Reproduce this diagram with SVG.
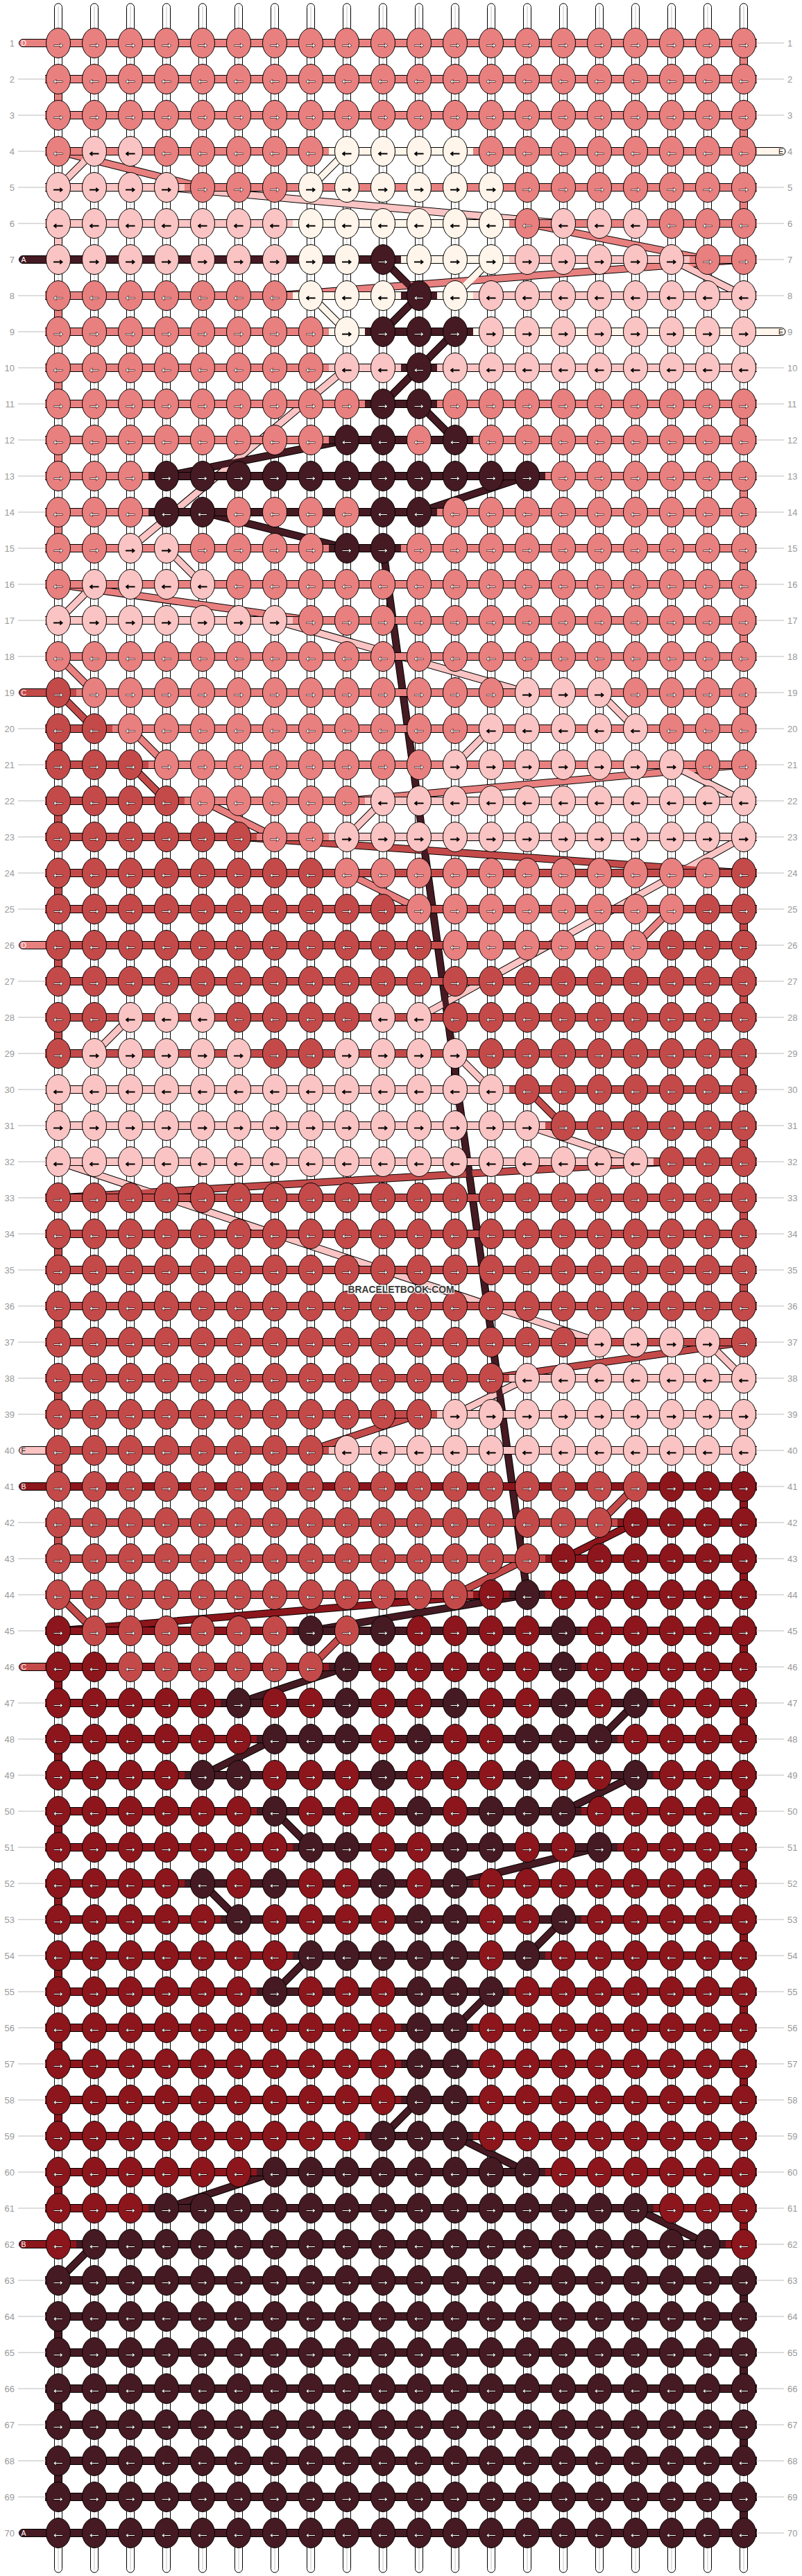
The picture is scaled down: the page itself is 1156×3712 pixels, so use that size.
<svg xmlns="http://www.w3.org/2000/svg" width="1156" height="3712" viewBox="0 0 1156 3712">
<style>
text{font-family:"Liberation Sans",Arial,sans-serif}
.n{font-size:13px;fill:#999;dominant-baseline:central}
.lt{font-size:10.5px;dominant-baseline:central}
.gl{stroke:#bbb;stroke-width:1;fill:none}
.str rect{fill:#fff;stroke:#000}
.o{stroke:#000;stroke-width:11;fill:none;stroke-linejoin:round}
.c{stroke-width:9;fill:none;stroke-linejoin:round}
.tn{stroke:#000}
</style>
<defs>
<g id="sg" stroke="#000"><rect x="-2" y="20.5" width="56" height="11"/><rect x="-2" y="72.5" width="56" height="11"/></g>
<g id="kn" stroke="#000"><ellipse cx="26" cy="26" rx="17.5" ry="21.5"/><ellipse cx="26" cy="78" rx="17.5" ry="21.5"/><g fill="currentColor" font-family="'DejaVu Sans',sans-serif" font-weight="bold" font-size="21" text-anchor="middle" stroke-width="1.2" paint-order="stroke" stroke-linejoin="round"><text x="26" y="33">→</text><text x="26" y="85">←</text></g></g>
<pattern id="S" width="52" height="104" x="58" y="36" patternUnits="userSpaceOnUse"><use href="#sg" fill="#e8807f"/><use href="#kn" fill="#e8807f" color="#fff"/></pattern>
<pattern id="P" width="52" height="104" x="58" y="36" patternUnits="userSpaceOnUse"><use href="#sg" fill="#f9c4c3"/><use href="#kn" fill="#f9c4c3" color="#000"/></pattern>
<pattern id="C" width="52" height="104" x="58" y="36" patternUnits="userSpaceOnUse"><use href="#sg" fill="#fff5ea"/><use href="#kn" fill="#fff5ea" color="#000"/></pattern>
<pattern id="M" width="52" height="104" x="58" y="36" patternUnits="userSpaceOnUse"><use href="#sg" fill="#451a22"/><use href="#kn" fill="#451a22" color="#fff"/></pattern>
<pattern id="R" width="52" height="104" x="58" y="36" patternUnits="userSpaceOnUse"><use href="#sg" fill="#c44a4a"/><use href="#kn" fill="#c44a4a" color="#fff"/></pattern>
<pattern id="D" width="52" height="104" x="58" y="36" patternUnits="userSpaceOnUse"><use href="#sg" fill="#8c161c"/><use href="#kn" fill="#8c161c" color="#fff"/></pattern>
<pattern id="PS" width="52" height="104" x="58" y="36" patternUnits="userSpaceOnUse"><use href="#sg" fill="#e8807f"/><use href="#kn" fill="#f9c4c3" color="#000"/></pattern>
<pattern id="CS" width="52" height="104" x="58" y="36" patternUnits="userSpaceOnUse"><use href="#sg" fill="#e8807f"/><use href="#kn" fill="#fff5ea" color="#000"/></pattern>
<pattern id="PC" width="52" height="104" x="58" y="36" patternUnits="userSpaceOnUse"><use href="#sg" fill="#fff5ea"/><use href="#kn" fill="#f9c4c3" color="#000"/></pattern>
<pattern id="PM" width="52" height="104" x="58" y="36" patternUnits="userSpaceOnUse"><use href="#sg" fill="#451a22"/><use href="#kn" fill="#f9c4c3" color="#000"/></pattern>
<pattern id="CM" width="52" height="104" x="58" y="36" patternUnits="userSpaceOnUse"><use href="#sg" fill="#451a22"/><use href="#kn" fill="#fff5ea" color="#000"/></pattern>
<pattern id="SM" width="52" height="104" x="58" y="36" patternUnits="userSpaceOnUse"><use href="#sg" fill="#451a22"/><use href="#kn" fill="#e8807f" color="#fff"/></pattern>
<pattern id="SR" width="52" height="104" x="58" y="36" patternUnits="userSpaceOnUse"><use href="#sg" fill="#c44a4a"/><use href="#kn" fill="#e8807f" color="#fff"/></pattern>
<pattern id="PR" width="52" height="104" x="58" y="36" patternUnits="userSpaceOnUse"><use href="#sg" fill="#c44a4a"/><use href="#kn" fill="#f9c4c3" color="#000"/></pattern>
<pattern id="RD" width="52" height="104" x="58" y="36" patternUnits="userSpaceOnUse"><use href="#sg" fill="#8c161c"/><use href="#kn" fill="#c44a4a" color="#fff"/></pattern>
<pattern id="RM" width="52" height="104" x="58" y="36" patternUnits="userSpaceOnUse"><use href="#sg" fill="#451a22"/><use href="#kn" fill="#c44a4a" color="#fff"/></pattern>
<pattern id="DM" width="52" height="104" x="58" y="36" patternUnits="userSpaceOnUse"><use href="#sg" fill="#451a22"/><use href="#kn" fill="#8c161c" color="#fff"/></pattern>
<path id="lS" d="M84,218L292,270M760,322L1020,374M1072,374L396,426M84,842L448,894M84,946L136,998M188,1050L240,1102M1072,1102L500,1154M292,1154L396,1206M500,1258L604,1310M968,1310L916,1362"/>
<path id="lP" d="M136,218L84,270M240,270L812,322M968,374L1072,426M500,530L188,790M240,790L292,842M136,842L84,894M396,894L760,998M864,998L916,1050M708,1050L656,1102M968,1102L1072,1154M552,1154L500,1206M1072,1206L604,1466M656,1518L708,1570M188,1466L136,1518M760,1622L916,1674M84,1674L864,1934M1020,1934L1072,1986M760,1986L656,2038"/>
<path id="lC" d="M500,218L448,270M708,374L656,426M448,426L500,478"/>
<path id="lM" d="M552,374L604,426L552,478M656,478L604,530L552,582M604,582L656,634M500,634L240,686M760,686L604,738M292,738L500,790M552,790L760,2298M760,2298L448,2350M500,2402L344,2454M916,2454L864,2506M396,2506L292,2558M916,2558L812,2610M396,2610L448,2662M864,2662L656,2714M292,2714L344,2766M812,2766L760,2818M448,2818L396,2870M708,2870L656,2922M604,3026L552,3078M656,3078L760,3130M396,3130L240,3182M916,3182L1020,3234M136,3234L84,3286"/>
<path id="lR" d="M84,998L136,1050M188,1102L240,1154M344,1206L1072,1258M760,1570L812,1622M968,1674L84,1726M1072,1934L708,1986M604,2038L448,2090M916,2142L864,2194M760,2246L656,2298M84,2298L136,2350M500,2350L448,2402"/>
<path id="lD" d="M916,2194L812,2246M708,2298L84,2350"/>
</defs>
<rect width="1156" height="3712" fill="#fff"/>
<g id="strings" class="str">
<rect x="78.5" y="5" width="11" height="3702" rx="5.5"/><rect x="130.5" y="5" width="11" height="3702" rx="5.5"/><rect x="182.5" y="5" width="11" height="3702" rx="5.5"/><rect x="234.5" y="5" width="11" height="3702" rx="5.5"/><rect x="286.5" y="5" width="11" height="3702" rx="5.5"/><rect x="338.5" y="5" width="11" height="3702" rx="5.5"/><rect x="390.5" y="5" width="11" height="3702" rx="5.5"/><rect x="442.5" y="5" width="11" height="3702" rx="5.5"/><rect x="494.5" y="5" width="11" height="3702" rx="5.5"/><rect x="546.5" y="5" width="11" height="3702" rx="5.5"/><rect x="598.5" y="5" width="11" height="3702" rx="5.5"/><rect x="650.5" y="5" width="11" height="3702" rx="5.5"/><rect x="702.5" y="5" width="11" height="3702" rx="5.5"/><rect x="754.5" y="5" width="11" height="3702" rx="5.5"/><rect x="806.5" y="5" width="11" height="3702" rx="5.5"/><rect x="858.5" y="5" width="11" height="3702" rx="5.5"/><rect x="910.5" y="5" width="11" height="3702" rx="5.5"/><rect x="962.5" y="5" width="11" height="3702" rx="5.5"/><rect x="1014.5" y="5" width="11" height="3702" rx="5.5"/><rect x="1066.5" y="5" width="11" height="3702" rx="5.5"/>
<path d="M84,9V3703M136,9V3703M188,9V3703M240,9V3703M292,9V3703M344,9V3703M396,9V3703M448,9V3703M500,9V3703M552,9V3703M604,9V3703M656,9V3703M708,9V3703M760,9V3703M812,9V3703M864,9V3703M916,9V3703M968,9V3703M1020,9V3703M1072,9V3703" stroke="#c4c4c4" fill="none"/>
</g>
<g id="turns" class="tn">
<path fill="#e8807f" d="M1066.5,80h11v16h-11zM78.5,132h11v16h-11zM1066.5,184h11v16h-11zM1066.5,288h11v16h-11zM78.5,444h11v16h-11zM78.5,548h11v16h-11zM1066.5,600h11v16h-11zM78.5,652h11v16h-11zM1066.5,704h11v16h-11zM78.5,756h11v16h-11zM1066.5,808h11v16h-11zM1066.5,912h11v16h-11zM1066.5,1016h11v16h-11z"/>
<path fill="#f9c4c3" d="M78.5,340h11v16h-11zM78.5,1588h11v16h-11zM1066.5,2056h11v16h-11z"/>
<path fill="#c44a4a" d="M78.5,1068h11v16h-11zM78.5,1172h11v16h-11zM78.5,1276h11v16h-11zM1066.5,1328h11v16h-11zM78.5,1380h11v16h-11zM1066.5,1432h11v16h-11zM78.5,1484h11v16h-11zM1066.5,1536h11v16h-11zM1066.5,1640h11v16h-11zM1066.5,1744h11v16h-11zM78.5,1796h11v16h-11zM1066.5,1848h11v16h-11zM78.5,1900h11v16h-11zM78.5,2004h11v16h-11zM78.5,2108h11v16h-11zM78.5,2212h11v16h-11z"/>
<path fill="#8c161c" d="M1066.5,2160h11v16h-11zM1066.5,2264h11v16h-11zM1066.5,2368h11v16h-11zM78.5,2420h11v16h-11zM1066.5,2472h11v16h-11zM78.5,2524h11v16h-11zM1066.5,2576h11v16h-11zM78.5,2628h11v16h-11zM1066.5,2680h11v16h-11zM78.5,2732h11v16h-11zM1066.5,2784h11v16h-11zM78.5,2836h11v16h-11zM1066.5,2888h11v16h-11zM78.5,2940h11v16h-11zM1066.5,2992h11v16h-11zM78.5,3044h11v16h-11zM78.5,3148h11v16h-11zM1066.5,3200h11v16h-11z"/>
<path fill="#451a22" d="M1066.5,3304h11v16h-11zM78.5,3356h11v16h-11zM1066.5,3408h11v16h-11zM78.5,3460h11v16h-11zM1066.5,3512h11v16h-11zM78.5,3564h11v16h-11zM1066.5,3616h11v16h-11z"/>
</g>
<g id="connectors">
<use href="#lS" class="o"/><use href="#lP" class="o"/><use href="#lC" class="o"/><use href="#lM" class="o"/><use href="#lR" class="o"/><use href="#lD" class="o"/>
<use href="#lS" class="c" stroke="#e8807f"/><use href="#lP" class="c" stroke="#f9c4c3"/><use href="#lC" class="c" stroke="#fff5ea"/><use href="#lR" class="c" stroke="#c44a4a"/><use href="#lD" class="c" stroke="#8c161c"/><use href="#lM" class="c" stroke="#451a22"/>
</g>
<g id="stubs" stroke="#000">
<rect x="27.5" y="56.5" width="60" height="11" rx="5.5" fill="#e8807f"/>
<rect x="27.5" y="368.5" width="60" height="11" rx="5.5" fill="#451a22"/>
<rect x="27.5" y="992.5" width="60" height="11" rx="5.5" fill="#c44a4a"/>
<rect x="27.5" y="1356.5" width="60" height="11" rx="5.5" fill="#e8807f"/>
<rect x="27.5" y="2084.5" width="60" height="11" rx="5.5" fill="#f9c4c3"/>
<rect x="27.5" y="2136.5" width="60" height="11" rx="5.5" fill="#8c161c"/>
<rect x="27.5" y="2396.5" width="60" height="11" rx="5.5" fill="#c44a4a"/>
<rect x="27.5" y="3228.5" width="60" height="11" rx="5.5" fill="#8c161c"/>
<rect x="27.5" y="3644.5" width="60" height="11" rx="5.5" fill="#451a22"/>
<rect x="1068" y="212.5" width="64" height="11" rx="5.5" fill="#fff5ea"/>
<rect x="1068" y="472.5" width="64" height="11" rx="5.5" fill="#fff5ea"/>
</g>
<g id="knots">
<rect x="65" y="36" width="1026" height="156" fill="url(#S)"/>
<rect x="65" y="192" width="45" height="52" fill="url(#S)"/><rect x="110" y="192" width="104" height="52" fill="url(#PS)"/><rect x="214" y="192" width="260" height="52" fill="url(#S)"/><rect x="474" y="192" width="208" height="52" fill="url(#C)"/><rect x="682" y="192" width="409" height="52" fill="url(#S)"/>
<rect x="65" y="244" width="201" height="52" fill="url(#P)"/><rect x="266" y="244" width="156" height="52" fill="url(#S)"/><rect x="422" y="244" width="312" height="52" fill="url(#CS)"/><rect x="734" y="244" width="357" height="52" fill="url(#S)"/>
<rect x="65" y="296" width="357" height="52" fill="url(#P)"/><rect x="422" y="296" width="312" height="52" fill="url(#C)"/><rect x="734" y="296" width="52" height="52" fill="url(#S)"/><rect x="786" y="296" width="156" height="52" fill="url(#PS)"/><rect x="942" y="296" width="149" height="52" fill="url(#S)"/>
<rect x="65" y="348" width="357" height="52" fill="url(#PM)"/><rect x="422" y="348" width="104" height="52" fill="url(#CM)"/><rect x="526" y="348" width="52" height="52" fill="url(#M)"/><rect x="578" y="348" width="156" height="52" fill="url(#C)"/><rect x="734" y="348" width="260" height="52" fill="url(#P)"/><rect x="994" y="348" width="97" height="52" fill="url(#S)"/>
<rect x="65" y="400" width="357" height="52" fill="url(#S)"/><rect x="422" y="400" width="156" height="52" fill="url(#C)"/><rect x="578" y="400" width="52" height="52" fill="url(#M)"/><rect x="630" y="400" width="52" height="52" fill="url(#C)"/><rect x="682" y="400" width="409" height="52" fill="url(#P)"/>
<rect x="65" y="452" width="409" height="52" fill="url(#S)"/><rect x="474" y="452" width="52" height="52" fill="url(#C)"/><rect x="526" y="452" width="156" height="52" fill="url(#M)"/><rect x="682" y="452" width="409" height="52" fill="url(#PC)"/>
<rect x="65" y="504" width="409" height="52" fill="url(#S)"/><rect x="474" y="504" width="104" height="52" fill="url(#P)"/><rect x="578" y="504" width="52" height="52" fill="url(#M)"/><rect x="630" y="504" width="461" height="52" fill="url(#P)"/>
<rect x="65" y="556" width="461" height="52" fill="url(#S)"/><rect x="526" y="556" width="104" height="52" fill="url(#M)"/><rect x="630" y="556" width="461" height="52" fill="url(#S)"/>
<rect x="65" y="608" width="409" height="52" fill="url(#S)"/><rect x="474" y="608" width="104" height="52" fill="url(#M)"/><rect x="578" y="608" width="52" height="52" fill="url(#SM)"/><rect x="630" y="608" width="52" height="52" fill="url(#M)"/><rect x="682" y="608" width="409" height="52" fill="url(#S)"/>
<rect x="65" y="660" width="149" height="52" fill="url(#S)"/><rect x="214" y="660" width="572" height="52" fill="url(#M)"/><rect x="786" y="660" width="305" height="52" fill="url(#S)"/>
<rect x="65" y="712" width="149" height="52" fill="url(#S)"/><rect x="214" y="712" width="104" height="52" fill="url(#M)"/><rect x="318" y="712" width="208" height="52" fill="url(#SM)"/><rect x="526" y="712" width="104" height="52" fill="url(#M)"/><rect x="630" y="712" width="461" height="52" fill="url(#S)"/>
<rect x="65" y="764" width="97" height="52" fill="url(#S)"/><rect x="162" y="764" width="104" height="52" fill="url(#PS)"/><rect x="266" y="764" width="208" height="52" fill="url(#S)"/><rect x="474" y="764" width="104" height="52" fill="url(#M)"/><rect x="578" y="764" width="513" height="52" fill="url(#S)"/>
<rect x="65" y="816" width="45" height="52" fill="url(#S)"/><rect x="110" y="816" width="208" height="52" fill="url(#PS)"/><rect x="318" y="816" width="773" height="52" fill="url(#S)"/>
<rect x="65" y="868" width="357" height="52" fill="url(#P)"/><rect x="422" y="868" width="669" height="52" fill="url(#S)"/>
<rect x="65" y="920" width="1026" height="52" fill="url(#S)"/>
<rect x="65" y="972" width="45" height="52" fill="url(#R)"/><rect x="110" y="972" width="624" height="52" fill="url(#S)"/><rect x="734" y="972" width="156" height="52" fill="url(#PS)"/><rect x="890" y="972" width="201" height="52" fill="url(#S)"/>
<rect x="65" y="1024" width="97" height="52" fill="url(#R)"/><rect x="162" y="1024" width="520" height="52" fill="url(#S)"/><rect x="682" y="1024" width="260" height="52" fill="url(#PS)"/><rect x="942" y="1024" width="149" height="52" fill="url(#S)"/>
<rect x="65" y="1076" width="149" height="52" fill="url(#R)"/><rect x="214" y="1076" width="416" height="52" fill="url(#S)"/><rect x="630" y="1076" width="364" height="52" fill="url(#PS)"/><rect x="994" y="1076" width="97" height="52" fill="url(#S)"/>
<rect x="65" y="1128" width="201" height="52" fill="url(#R)"/><rect x="266" y="1128" width="260" height="52" fill="url(#S)"/><rect x="526" y="1128" width="565" height="52" fill="url(#P)"/>
<rect x="65" y="1180" width="305" height="52" fill="url(#R)"/><rect x="370" y="1180" width="104" height="52" fill="url(#S)"/><rect x="474" y="1180" width="617" height="52" fill="url(#P)"/>
<rect x="65" y="1232" width="409" height="52" fill="url(#R)"/><rect x="474" y="1232" width="572" height="52" fill="url(#SR)"/><rect x="1046" y="1232" width="45" height="52" fill="url(#R)"/>
<rect x="65" y="1284" width="513" height="52" fill="url(#R)"/><rect x="578" y="1284" width="416" height="52" fill="url(#SR)"/><rect x="994" y="1284" width="97" height="52" fill="url(#R)"/>
<rect x="65" y="1336" width="565" height="52" fill="url(#R)"/><rect x="630" y="1336" width="312" height="52" fill="url(#SR)"/><rect x="942" y="1336" width="149" height="52" fill="url(#R)"/>
<rect x="65" y="1388" width="1026" height="52" fill="url(#R)"/>
<rect x="65" y="1440" width="97" height="52" fill="url(#R)"/><rect x="162" y="1440" width="156" height="52" fill="url(#PR)"/><rect x="318" y="1440" width="208" height="52" fill="url(#R)"/><rect x="526" y="1440" width="104" height="52" fill="url(#PR)"/><rect x="630" y="1440" width="461" height="52" fill="url(#R)"/>
<rect x="65" y="1492" width="45" height="52" fill="url(#R)"/><rect x="110" y="1492" width="260" height="52" fill="url(#PR)"/><rect x="370" y="1492" width="104" height="52" fill="url(#R)"/><rect x="474" y="1492" width="208" height="52" fill="url(#PR)"/><rect x="682" y="1492" width="409" height="52" fill="url(#R)"/>
<rect x="65" y="1544" width="669" height="52" fill="url(#P)"/><rect x="734" y="1544" width="357" height="52" fill="url(#R)"/>
<rect x="65" y="1596" width="721" height="52" fill="url(#P)"/><rect x="786" y="1596" width="305" height="52" fill="url(#R)"/>
<rect x="65" y="1648" width="877" height="52" fill="url(#P)"/><rect x="942" y="1648" width="149" height="52" fill="url(#R)"/>
<rect x="65" y="1700" width="1026" height="208" fill="url(#R)"/>
<rect x="65" y="1908" width="773" height="52" fill="url(#R)"/><rect x="838" y="1908" width="208" height="52" fill="url(#PR)"/><rect x="1046" y="1908" width="45" height="52" fill="url(#R)"/>
<rect x="65" y="1960" width="669" height="52" fill="url(#R)"/><rect x="734" y="1960" width="357" height="52" fill="url(#P)"/>
<rect x="65" y="2012" width="565" height="52" fill="url(#R)"/><rect x="630" y="2012" width="461" height="52" fill="url(#P)"/>
<rect x="65" y="2064" width="409" height="52" fill="url(#R)"/><rect x="474" y="2064" width="617" height="52" fill="url(#P)"/>
<rect x="65" y="2116" width="877" height="52" fill="url(#RD)"/><rect x="942" y="2116" width="149" height="52" fill="url(#D)"/>
<rect x="65" y="2168" width="825" height="52" fill="url(#R)"/><rect x="890" y="2168" width="201" height="52" fill="url(#D)"/>
<rect x="65" y="2220" width="721" height="52" fill="url(#R)"/><rect x="786" y="2220" width="305" height="52" fill="url(#D)"/>
<rect x="65" y="2272" width="617" height="52" fill="url(#R)"/><rect x="682" y="2272" width="52" height="52" fill="url(#D)"/><rect x="734" y="2272" width="52" height="52" fill="url(#M)"/><rect x="786" y="2272" width="305" height="52" fill="url(#D)"/>
<rect x="65" y="2324" width="45" height="52" fill="url(#D)"/><rect x="110" y="2324" width="312" height="52" fill="url(#RD)"/><rect x="422" y="2324" width="52" height="52" fill="url(#M)"/><rect x="474" y="2324" width="52" height="52" fill="url(#RM)"/><rect x="526" y="2324" width="52" height="52" fill="url(#M)"/><rect x="578" y="2324" width="208" height="52" fill="url(#DM)"/><rect x="786" y="2324" width="52" height="52" fill="url(#M)"/><rect x="838" y="2324" width="253" height="52" fill="url(#D)"/>
<rect x="65" y="2376" width="97" height="52" fill="url(#D)"/><rect x="162" y="2376" width="312" height="52" fill="url(#RD)"/><rect x="474" y="2376" width="52" height="52" fill="url(#M)"/><rect x="526" y="2376" width="260" height="52" fill="url(#DM)"/><rect x="786" y="2376" width="52" height="52" fill="url(#M)"/><rect x="838" y="2376" width="253" height="52" fill="url(#D)"/>
<rect x="65" y="2428" width="253" height="52" fill="url(#D)"/><rect x="318" y="2428" width="52" height="52" fill="url(#M)"/><rect x="370" y="2428" width="104" height="52" fill="url(#DM)"/><rect x="474" y="2428" width="52" height="52" fill="url(#M)"/><rect x="526" y="2428" width="104" height="52" fill="url(#DM)"/><rect x="630" y="2428" width="52" height="52" fill="url(#M)"/><rect x="682" y="2428" width="104" height="52" fill="url(#DM)"/><rect x="786" y="2428" width="52" height="52" fill="url(#M)"/><rect x="838" y="2428" width="52" height="52" fill="url(#DM)"/><rect x="890" y="2428" width="52" height="52" fill="url(#M)"/><rect x="942" y="2428" width="149" height="52" fill="url(#D)"/>
<rect x="65" y="2480" width="305" height="52" fill="url(#D)"/><rect x="370" y="2480" width="156" height="52" fill="url(#M)"/><rect x="526" y="2480" width="52" height="52" fill="url(#DM)"/><rect x="578" y="2480" width="52" height="52" fill="url(#M)"/><rect x="630" y="2480" width="104" height="52" fill="url(#DM)"/><rect x="734" y="2480" width="156" height="52" fill="url(#M)"/><rect x="890" y="2480" width="201" height="52" fill="url(#D)"/>
<rect x="65" y="2532" width="201" height="52" fill="url(#D)"/><rect x="266" y="2532" width="104" height="52" fill="url(#M)"/><rect x="370" y="2532" width="156" height="52" fill="url(#DM)"/><rect x="526" y="2532" width="52" height="52" fill="url(#M)"/><rect x="578" y="2532" width="156" height="52" fill="url(#DM)"/><rect x="734" y="2532" width="52" height="52" fill="url(#M)"/><rect x="786" y="2532" width="104" height="52" fill="url(#DM)"/><rect x="890" y="2532" width="52" height="52" fill="url(#M)"/><rect x="942" y="2532" width="149" height="52" fill="url(#D)"/>
<rect x="65" y="2584" width="305" height="52" fill="url(#D)"/><rect x="370" y="2584" width="52" height="52" fill="url(#M)"/><rect x="422" y="2584" width="156" height="52" fill="url(#DM)"/><rect x="578" y="2584" width="52" height="52" fill="url(#M)"/><rect x="630" y="2584" width="52" height="52" fill="url(#DM)"/><rect x="682" y="2584" width="156" height="52" fill="url(#M)"/><rect x="838" y="2584" width="253" height="52" fill="url(#D)"/>
<rect x="65" y="2636" width="357" height="52" fill="url(#D)"/><rect x="422" y="2636" width="104" height="52" fill="url(#M)"/><rect x="526" y="2636" width="104" height="52" fill="url(#DM)"/><rect x="630" y="2636" width="104" height="52" fill="url(#M)"/><rect x="734" y="2636" width="104" height="52" fill="url(#DM)"/><rect x="838" y="2636" width="52" height="52" fill="url(#M)"/><rect x="890" y="2636" width="201" height="52" fill="url(#D)"/>
<rect x="65" y="2688" width="201" height="52" fill="url(#D)"/><rect x="266" y="2688" width="52" height="52" fill="url(#M)"/><rect x="318" y="2688" width="52" height="52" fill="url(#DM)"/><rect x="370" y="2688" width="52" height="52" fill="url(#M)"/><rect x="422" y="2688" width="104" height="52" fill="url(#DM)"/><rect x="526" y="2688" width="52" height="52" fill="url(#M)"/><rect x="578" y="2688" width="52" height="52" fill="url(#DM)"/><rect x="630" y="2688" width="52" height="52" fill="url(#M)"/><rect x="682" y="2688" width="409" height="52" fill="url(#D)"/>
<rect x="65" y="2740" width="253" height="52" fill="url(#D)"/><rect x="318" y="2740" width="52" height="52" fill="url(#M)"/><rect x="370" y="2740" width="208" height="52" fill="url(#DM)"/><rect x="578" y="2740" width="104" height="52" fill="url(#M)"/><rect x="682" y="2740" width="104" height="52" fill="url(#DM)"/><rect x="786" y="2740" width="52" height="52" fill="url(#M)"/><rect x="838" y="2740" width="253" height="52" fill="url(#D)"/>
<rect x="65" y="2792" width="357" height="52" fill="url(#D)"/><rect x="422" y="2792" width="260" height="52" fill="url(#M)"/><rect x="682" y="2792" width="52" height="52" fill="url(#DM)"/><rect x="734" y="2792" width="52" height="52" fill="url(#M)"/><rect x="786" y="2792" width="305" height="52" fill="url(#D)"/>
<rect x="65" y="2844" width="305" height="52" fill="url(#D)"/><rect x="370" y="2844" width="52" height="52" fill="url(#M)"/><rect x="422" y="2844" width="156" height="52" fill="url(#DM)"/><rect x="578" y="2844" width="156" height="52" fill="url(#M)"/><rect x="734" y="2844" width="357" height="52" fill="url(#D)"/>
<rect x="65" y="2896" width="513" height="156" fill="url(#D)"/><rect x="578" y="2896" width="104" height="156" fill="url(#M)"/><rect x="682" y="2896" width="409" height="156" fill="url(#D)"/>
<rect x="65" y="3052" width="461" height="52" fill="url(#D)"/><rect x="526" y="3052" width="156" height="52" fill="url(#M)"/><rect x="682" y="3052" width="409" height="52" fill="url(#D)"/>
<rect x="65" y="3104" width="305" height="52" fill="url(#D)"/><rect x="370" y="3104" width="416" height="52" fill="url(#M)"/><rect x="786" y="3104" width="305" height="52" fill="url(#D)"/>
<rect x="65" y="3156" width="149" height="52" fill="url(#D)"/><rect x="214" y="3156" width="728" height="52" fill="url(#M)"/><rect x="942" y="3156" width="149" height="52" fill="url(#D)"/>
<rect x="65" y="3208" width="45" height="52" fill="url(#D)"/><rect x="110" y="3208" width="936" height="52" fill="url(#M)"/><rect x="1046" y="3208" width="45" height="52" fill="url(#D)"/>
<rect x="65" y="3260" width="1026" height="416" fill="url(#M)"/>
</g>
<g id="stub-labels" class="lt">
<text x="30.5" y="62" fill="#fff">D</text><text x="30.5" y="374" fill="#fff">A</text><text x="30.5" y="998" fill="#fff">C</text><text x="30.5" y="1362" fill="#fff">D</text><text x="30.5" y="2090" fill="#222">F</text><text x="30.5" y="2142" fill="#fff">B</text><text x="30.5" y="2402" fill="#fff">C</text><text x="30.5" y="3234" fill="#fff">B</text><text x="30.5" y="3650" fill="#fff">A</text>
<text x="1122" y="218" fill="#222">E</text><text x="1122" y="478" fill="#222">E</text>
</g>
<g id="row-lines" class="gl">
<path d="M26,114h40M26,166h40M26,218h40M26,270h40M26,322h40M26,426h40M26,478h40M26,530h40M26,582h40M26,634h40M26,686h40M26,738h40M26,790h40M26,842h40M26,894h40M26,946h40M26,1050h40M26,1102h40M26,1154h40M26,1206h40M26,1258h40M26,1310h40M26,1414h40M26,1466h40M26,1518h40M26,1570h40M26,1622h40M26,1674h40M26,1726h40M26,1778h40M26,1830h40M26,1882h40M26,1934h40M26,1986h40M26,2038h40M26,2194h40M26,2246h40M26,2298h40M26,2350h40M26,2454h40M26,2506h40M26,2558h40M26,2610h40M26,2662h40M26,2714h40M26,2766h40M26,2818h40M26,2870h40M26,2922h40M26,2974h40M26,3026h40M26,3078h40M26,3130h40M26,3182h40M26,3286h40M26,3338h40M26,3390h40M26,3442h40M26,3494h40M26,3546h40M26,3598h40"/>
<path d="M1090,62h40M1090,114h40M1090,166h40M1090,270h40M1090,322h40M1090,374h40M1090,426h40M1090,530h40M1090,582h40M1090,634h40M1090,686h40M1090,738h40M1090,790h40M1090,842h40M1090,894h40M1090,946h40M1090,998h40M1090,1050h40M1090,1102h40M1090,1154h40M1090,1206h40M1090,1258h40M1090,1310h40M1090,1362h40M1090,1414h40M1090,1466h40M1090,1518h40M1090,1570h40M1090,1622h40M1090,1674h40M1090,1726h40M1090,1778h40M1090,1830h40M1090,1882h40M1090,1934h40M1090,1986h40M1090,2038h40M1090,2090h40M1090,2142h40M1090,2194h40M1090,2246h40M1090,2298h40M1090,2350h40M1090,2402h40M1090,2454h40M1090,2506h40M1090,2558h40M1090,2610h40M1090,2662h40M1090,2714h40M1090,2766h40M1090,2818h40M1090,2870h40M1090,2922h40M1090,2974h40M1090,3026h40M1090,3078h40M1090,3130h40M1090,3182h40M1090,3234h40M1090,3286h40M1090,3338h40M1090,3390h40M1090,3442h40M1090,3494h40M1090,3546h40M1090,3598h40M1090,3650h40"/>
</g>
<g id="row-numbers-left" class="n" text-anchor="end">
<text x="21" y="62">1</text><text x="21" y="114">2</text><text x="21" y="166">3</text><text x="21" y="218">4</text><text x="21" y="270">5</text><text x="21" y="322">6</text><text x="21" y="374">7</text><text x="21" y="426">8</text><text x="21" y="478">9</text><text x="21" y="530">10</text><text x="21" y="582">11</text><text x="21" y="634">12</text><text x="21" y="686">13</text><text x="21" y="738">14</text><text x="21" y="790">15</text><text x="21" y="842">16</text><text x="21" y="894">17</text><text x="21" y="946">18</text><text x="21" y="998">19</text><text x="21" y="1050">20</text><text x="21" y="1102">21</text><text x="21" y="1154">22</text><text x="21" y="1206">23</text><text x="21" y="1258">24</text><text x="21" y="1310">25</text><text x="21" y="1362">26</text><text x="21" y="1414">27</text><text x="21" y="1466">28</text><text x="21" y="1518">29</text><text x="21" y="1570">30</text><text x="21" y="1622">31</text><text x="21" y="1674">32</text><text x="21" y="1726">33</text><text x="21" y="1778">34</text><text x="21" y="1830">35</text><text x="21" y="1882">36</text><text x="21" y="1934">37</text><text x="21" y="1986">38</text><text x="21" y="2038">39</text><text x="21" y="2090">40</text><text x="21" y="2142">41</text><text x="21" y="2194">42</text><text x="21" y="2246">43</text><text x="21" y="2298">44</text><text x="21" y="2350">45</text><text x="21" y="2402">46</text><text x="21" y="2454">47</text><text x="21" y="2506">48</text><text x="21" y="2558">49</text><text x="21" y="2610">50</text><text x="21" y="2662">51</text><text x="21" y="2714">52</text><text x="21" y="2766">53</text><text x="21" y="2818">54</text><text x="21" y="2870">55</text><text x="21" y="2922">56</text><text x="21" y="2974">57</text><text x="21" y="3026">58</text><text x="21" y="3078">59</text><text x="21" y="3130">60</text><text x="21" y="3182">61</text><text x="21" y="3234">62</text><text x="21" y="3286">63</text><text x="21" y="3338">64</text><text x="21" y="3390">65</text><text x="21" y="3442">66</text><text x="21" y="3494">67</text><text x="21" y="3546">68</text><text x="21" y="3598">69</text><text x="21" y="3650">70</text>
</g>
<g id="row-numbers-right" class="n">
<text x="1135" y="62">1</text><text x="1135" y="114">2</text><text x="1135" y="166">3</text><text x="1135" y="218">4</text><text x="1135" y="270">5</text><text x="1135" y="322">6</text><text x="1135" y="374">7</text><text x="1135" y="426">8</text><text x="1135" y="478">9</text><text x="1135" y="530">10</text><text x="1135" y="582">11</text><text x="1135" y="634">12</text><text x="1135" y="686">13</text><text x="1135" y="738">14</text><text x="1135" y="790">15</text><text x="1135" y="842">16</text><text x="1135" y="894">17</text><text x="1135" y="946">18</text><text x="1135" y="998">19</text><text x="1135" y="1050">20</text><text x="1135" y="1102">21</text><text x="1135" y="1154">22</text><text x="1135" y="1206">23</text><text x="1135" y="1258">24</text><text x="1135" y="1310">25</text><text x="1135" y="1362">26</text><text x="1135" y="1414">27</text><text x="1135" y="1466">28</text><text x="1135" y="1518">29</text><text x="1135" y="1570">30</text><text x="1135" y="1622">31</text><text x="1135" y="1674">32</text><text x="1135" y="1726">33</text><text x="1135" y="1778">34</text><text x="1135" y="1830">35</text><text x="1135" y="1882">36</text><text x="1135" y="1934">37</text><text x="1135" y="1986">38</text><text x="1135" y="2038">39</text><text x="1135" y="2090">40</text><text x="1135" y="2142">41</text><text x="1135" y="2194">42</text><text x="1135" y="2246">43</text><text x="1135" y="2298">44</text><text x="1135" y="2350">45</text><text x="1135" y="2402">46</text><text x="1135" y="2454">47</text><text x="1135" y="2506">48</text><text x="1135" y="2558">49</text><text x="1135" y="2610">50</text><text x="1135" y="2662">51</text><text x="1135" y="2714">52</text><text x="1135" y="2766">53</text><text x="1135" y="2818">54</text><text x="1135" y="2870">55</text><text x="1135" y="2922">56</text><text x="1135" y="2974">57</text><text x="1135" y="3026">58</text><text x="1135" y="3078">59</text><text x="1135" y="3130">60</text><text x="1135" y="3182">61</text><text x="1135" y="3234">62</text><text x="1135" y="3286">63</text><text x="1135" y="3338">64</text><text x="1135" y="3390">65</text><text x="1135" y="3442">66</text><text x="1135" y="3494">67</text><text x="1135" y="3546">68</text><text x="1135" y="3598">69</text><text x="1135" y="3650">70</text>
</g>
<text id="watermark" x="578" y="1857" text-anchor="middle" dominant-baseline="central" font-size="15" font-weight="bold" textLength="153" lengthAdjust="spacingAndGlyphs" fill="#3a3a3a" stroke="#fff" stroke-opacity="0.75" stroke-width="3" paint-order="stroke">BRACELETBOOK.COM</text>
</svg>
